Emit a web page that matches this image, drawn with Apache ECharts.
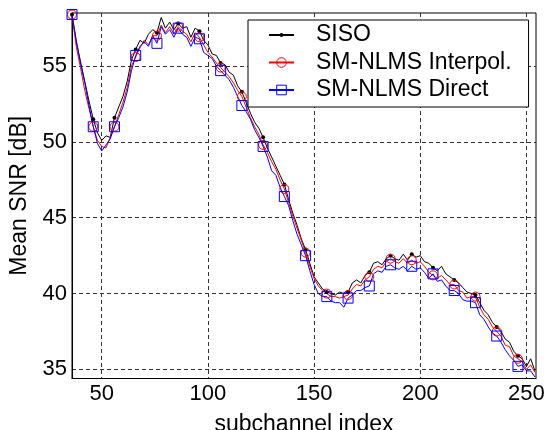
<!DOCTYPE html>
<html>
<head>
<meta charset="utf-8">
<script src="https://cdn.jsdelivr.net/npm/echarts@6/dist/echarts.min.js"></script>
<style>
html, body { margin: 0; padding: 0; background: #fff; }
#chart { width: 545px; height: 430px; }
</style>
</head>
<body>
<div id="chart"></div>
<script>
// subchannel index (every 2nd subchannel)
var subch = [36,38,40,42,44,46,48,50,52,54,56,58,60,62,64,66,68,70,72,74,
  76,78,80,82,84,86,88,90,92,94,96,98,100,102,104,106,108,110,112,114,
  116,118,120,122,124,126,128,130,132,134,136,138,140,142,144,146,148,150,152,154,
  156,158,160,162,164,166,168,170,172,174,176,178,180,182,184,186,188,190,192,194,
  196,198,200,202,204,206,208,210,212,214,216,218,220,222,224,226,228,230,232,234,
  236,238,240,242,244,246,248,250,252,254];

var siso = [58.4,56.6,55.3,54.0,52.7,51.5,50.6,50.1,50.4,50.3,51.6,52.3,53.0,54.0,55.4,56.1,56.7,56.5,57.1,57.4,
  57.2,58.2,57.5,57.9,57.4,57.8,57.5,57.6,56.9,57.5,57.3,56.7,56.4,55.8,55.7,55.2,55.1,54.6,54.4,53.7,
  53.3,52.6,51.9,51.3,50.9,50.3,49.6,49.0,48.4,47.8,47.2,46.2,45.3,44.5,43.6,42.9,42.0,41.1,40.7,40.3,
  40.1,40.0,39.9,40.1,40.0,40.1,40.7,40.9,40.7,41.2,41.4,42.0,42.1,41.9,42.3,42.5,42.3,42.2,42.6,42.2,
  42.6,42.4,42.5,42.1,42.0,41.7,41.5,41.8,41.3,41.1,40.9,40.7,40.4,40.1,40.0,39.9,39.4,38.9,38.6,38.1,
  37.8,37.5,37.0,36.8,36.2,35.9,35.7,35.2,35.7,34.9];

var interpol = [58.4,56.3,54.9,53.4,52.2,51.0,50.1,49.7,49.6,50.3,51.0,51.8,52.6,53.6,55.0,55.6,56.2,56.7,56.4,57.0,
  57.0,57.7,57.2,57.6,57.1,57.6,57.3,57.1,56.6,57.2,56.9,56.4,55.9,55.6,55.2,54.9,54.6,54.3,53.9,53.4,
  53.0,52.3,51.6,51.0,50.5,49.8,49.3,48.7,48.2,47.5,46.9,46.0,45.1,44.3,43.5,42.7,41.8,41.0,40.5,40.2,
  40.0,39.8,39.8,39.7,39.8,39.9,40.3,40.6,40.5,40.9,41.1,41.6,41.8,41.7,42.1,42.3,42.1,42.0,42.3,42.0,
  42.2,42.0,42.1,41.8,41.4,41.2,41.0,41.2,40.9,40.6,40.6,40.2,40.1,39.7,39.8,39.8,39.1,38.6,38.3,37.8,
  37.5,37.2,36.6,36.5,35.9,35.7,35.5,35.0,35.3,34.8];

var direct = [58.4,56.7,55.2,53.9,52.4,51.0,49.9,49.4,49.8,50.2,51.0,51.6,52.3,53.3,54.7,55.7,56.3,56.6,56.3,57.0,
  56.5,57.6,57.1,57.4,56.9,57.5,57.1,56.9,56.3,56.9,56.8,55.9,55.7,55.5,55.0,54.7,54.4,54.1,53.6,53.0,
  52.4,52.0,51.5,50.8,50.3,49.7,49.0,48.1,47.8,47.0,46.4,45.8,44.8,43.9,43.2,42.5,41.5,40.6,40.0,39.8,
  39.8,39.5,39.4,39.4,39.1,39.7,39.9,40.2,40.2,40.4,40.5,41.3,41.5,41.4,41.8,41.9,41.7,41.6,41.8,41.5,
  41.8,41.6,41.7,41.4,41.0,41.3,40.8,40.9,40.5,40.2,40.2,40.0,39.6,39.5,39.5,39.4,38.6,38.3,37.8,37.4,
  37.2,36.8,36.3,35.9,35.6,35.2,35.3,34.9,34.9,34.5];

var xTicks = [50, 100, 150, 200, 250];
var yTicks = [35, 40, 45, 50, 55];
var names = ['SISO', 'SM-NLMS Interpol.', 'SM-NLMS Direct'];

var font = "'Liberation Sans', Arial, sans-serif";
// small filled dot (padded so it stays small inside the symbol box)
var dot = 'path://M0 0L0 0M10 10L10 10M3 5A2 2 0 1 1 7 5A2 2 0 1 1 3 5Z';

function pairs(ys) {
  return subch.map(function (x, i) { return [x, ys[i]]; });
}
function markEvery(size) {
  return function (v, p) { return p.dataIndex % 5 === 0 ? size : 0; };
}

var chart = echarts.init(document.getElementById('chart'), null, { renderer: 'canvas' });
chart.setOption({
  animation: false,
  backgroundColor: '#fff',
  textStyle: { fontFamily: font },
  grid: {
    left: 72, right: 9, top: 13, bottom: 51.5,
    containLabel: false, outerBoundsMode: 'none',
    show: true, borderColor: '#000', borderWidth: 1
  },
  legend: {
    orient: 'vertical',
    left: 248, top: 20,
    padding: [3.5, 17, 5.5, 20],
    itemGap: 4.5,
    itemWidth: 25,
    itemHeight: 12,
    backgroundColor: '#fff',
    borderColor: '#000',
    borderWidth: 1,
    itemStyle: { borderWidth: 1 },
    textStyle: { fontFamily: font, fontSize: 23, color: '#000', padding: [0, 0, 0, 17] },
    data: names
  },
  xAxis: {
    type: 'value',
    min: 36, max: 254.5,
    name: 'subchannel index',
    nameLocation: 'middle',
    nameGap: 35,
    nameTextStyle: { fontFamily: font, fontSize: 23, color: '#000' },
    axisLine: { lineStyle: { color: '#000', width: 1 } },
    axisTick: { show: false, customValues: xTicks },
    axisLabel: { customValues: xTicks, fontFamily: font, fontSize: 22, color: '#000', margin: 4 },
    splitLine: { show: true, lineStyle: { color: '#333', width: 1, type: [4, 3] } }
  },
  yAxis: {
    type: 'value',
    min: 34.4, max: 58.5,
    name: 'Mean SNR [dB]',
    nameLocation: 'middle',
    nameGap: 33,
    nameTextStyle: { fontFamily: font, fontSize: 23, color: '#000' },
    axisLine: { show: true, lineStyle: { color: '#000', width: 1 } },
    axisTick: { show: false, customValues: yTicks },
    axisLabel: { customValues: yTicks, fontFamily: font, fontSize: 22, color: '#000', margin: 5 },
    splitLine: { show: true, lineStyle: { color: '#333', width: 1, type: [4, 3] } }
  },
  series: [
    {
      name: names[0], type: 'line', data: pairs(siso),
      symbol: dot, symbolSize: markEvery(10), showAllSymbol: true,
      lineStyle: { color: '#000', width: 1 },
      itemStyle: { color: '#000', borderWidth: 0 },
      emphasis: { disabled: true }
    },
    {
      name: names[1], type: 'line', data: pairs(interpol),
      symbol: 'circle', symbolSize: markEvery(9), showAllSymbol: true,
      lineStyle: { color: '#ff0000', width: 1 },
      itemStyle: { color: 'transparent', borderColor: '#ff0000', borderWidth: 1 },
      emphasis: { disabled: true }
    },
    {
      name: names[2], type: 'line', data: pairs(direct),
      symbol: 'rect', symbolSize: markEvery(10), showAllSymbol: true,
      lineStyle: { color: '#0000ff', width: 1 },
      itemStyle: { color: 'transparent', borderColor: '#0000ff', borderWidth: 1 },
      emphasis: { disabled: true }
    }
  ]
});
</script>
</body>
</html>
